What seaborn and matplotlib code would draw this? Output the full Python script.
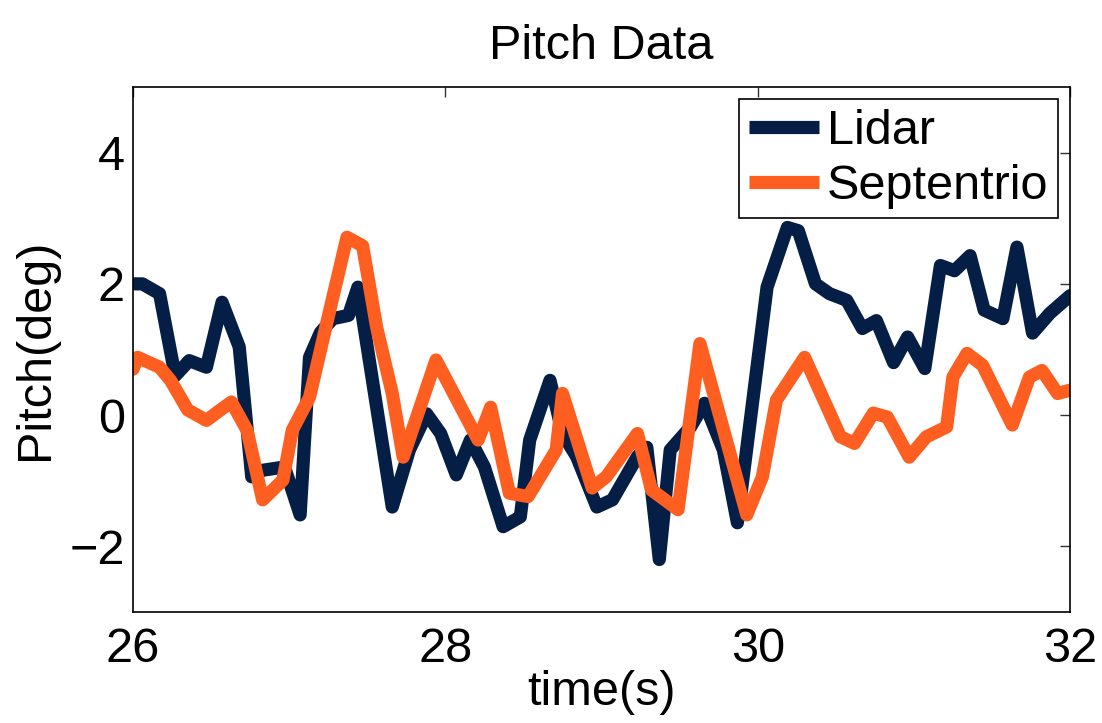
import matplotlib
matplotlib.use("Agg")
import matplotlib.pyplot as plt
import seaborn as sns
import pandas as pd

# Lidar pitch estimate (deg) against time (s)
lidar_t = [26.00, 26.06, 26.17, 26.27, 26.36, 26.47, 26.57, 26.68, 26.76, 26.83,
           26.97, 27.07, 27.13, 27.20, 27.28, 27.38, 27.44, 27.52, 27.66, 27.77,
           27.88, 27.97, 28.07, 28.16, 28.25, 28.37, 28.48, 28.54, 28.67, 28.75,
           28.84, 28.97, 29.07, 29.23, 29.29, 29.37, 29.44, 29.57, 29.66, 29.78,
           29.87, 30.06, 30.19, 30.26, 30.37, 30.46, 30.57, 30.67, 30.76, 30.87,
           30.96, 31.07, 31.17, 31.26, 31.36, 31.45, 31.57, 31.66, 31.76, 31.87,
           32.00]
lidar_p = [2.00, 2.00, 1.85, 0.60, 0.83, 0.73, 1.72, 1.04, -0.94, -0.84,
           -0.79, -1.52, 0.88, 1.26, 1.47, 1.52, 1.95, 0.73, -1.40, -0.53,
           0.02, -0.28, -0.91, -0.38, -0.79, -1.70, -1.55, -0.38, 0.53, -0.28,
           -0.63, -1.40, -1.29, -0.63, -0.49, -2.20, -0.53, -0.18, 0.18, -0.53,
           -1.64, 1.95, 2.86, 2.81, 2.00, 1.85, 1.75, 1.32, 1.44, 0.80,
           1.19, 0.71, 2.28, 2.20, 2.43, 1.60, 1.47, 2.56, 1.25, 1.55,
           1.82]

# Septentrio GNSS pitch (deg) against time (s)
sept_t = [26.00, 26.03, 26.17, 26.24, 26.35, 26.47, 26.56, 26.63, 26.73, 26.83,
          26.96, 27.02, 27.13, 27.26, 27.37, 27.47, 27.56, 27.66, 27.73, 27.94,
          28.21, 28.29, 28.41, 28.53, 28.71, 28.75, 28.94, 29.03, 29.23, 29.32,
          29.49, 29.63, 29.93, 30.03, 30.12, 30.30, 30.53, 30.62, 30.74, 30.83,
          30.97, 31.08, 31.21, 31.25, 31.34, 31.44, 31.63, 31.74, 31.82, 31.92,
          32.00]
sept_p = [0.70, 0.88, 0.73, 0.53, 0.08, -0.08, 0.08, 0.20, -0.23, -1.29,
          -0.99, -0.23, 0.27, 1.60, 2.71, 2.58, 1.34, 0.33, -0.64, 0.84,
          -0.38, 0.12, -1.19, -1.24, -0.53, 0.33, -1.11, -0.94, -0.28, -1.14,
          -1.44, 1.09, -1.52, -0.94, 0.23, 0.88, -0.33, -0.43, 0.03, -0.03,
          -0.64, -0.33, -0.18, 0.58, 0.94, 0.76, -0.15, 0.58, 0.68, 0.33,
          0.38]

series_names = ["Lidar", "Septentrio"]
series_colors = ["#041E45", "#FE5E20"]

df = pd.concat([
    pd.DataFrame({"time": lidar_t, "pitch": lidar_p, "source": series_names[0]}),
    pd.DataFrame({"time": sept_t, "pitch": sept_p, "source": series_names[1]}),
], ignore_index=True)

sns.set_style("white")
plt.rcParams["font.family"] = ["Liberation Sans", "DejaVu Sans"]
plt.rcParams["text.color"] = "black"
plt.rcParams["axes.labelcolor"] = "black"
plt.rcParams["xtick.color"] = "black"
plt.rcParams["ytick.color"] = "black"

fig = plt.figure(figsize=(11.02, 7.23), dpi=100)
ax = fig.add_axes([0.1207, 0.1535, 0.8503, 0.7262])

sns.lineplot(data=df, x="time", y="pitch", hue="source", estimator=None,
             sort=False, palette=dict(zip(series_names, series_colors)),
             linewidth=9.5, ax=ax)

ax.set_xlim(26, 32)
ax.set_ylim(-3, 5)
ax.set_xticks([26, 28, 30, 32])
ax.set_yticks([-2, 0, 2, 4])

fs = 35
ax.tick_params(axis="both", which="major", direction="in", length=7, width=1,
               color="#333333", labelcolor="black", top=True, right=True,
               labelsize=fs)
ax.tick_params(axis="x", pad=11)
ax.tick_params(axis="y", pad=6)
for s in ax.spines.values():
    s.set_color("black")
    s.set_linewidth(1.2)

ax.set_title("Pitch Data", fontsize=fs, pad=20, color="black")
ax.set_xlabel("time(s)", fontsize=fs, labelpad=-2, color="black")
ax.set_ylabel("Pitch(deg)", fontsize=fs, labelpad=8, color="black")

leg = ax.legend(loc="upper right", fontsize=fs, frameon=True, fancybox=False,
                framealpha=1.0, handlelength=1.45, handletextpad=0.15,
                borderpad=0.2, labelspacing=0.2, borderaxespad=0.25)
leg.get_frame().set_edgecolor("black")
leg.get_frame().set_linewidth(1.2)
leg.set_title(None)
for h in leg.get_lines():
    h.set_solid_capstyle("butt")

fig.savefig("out.png", dpi=100)
